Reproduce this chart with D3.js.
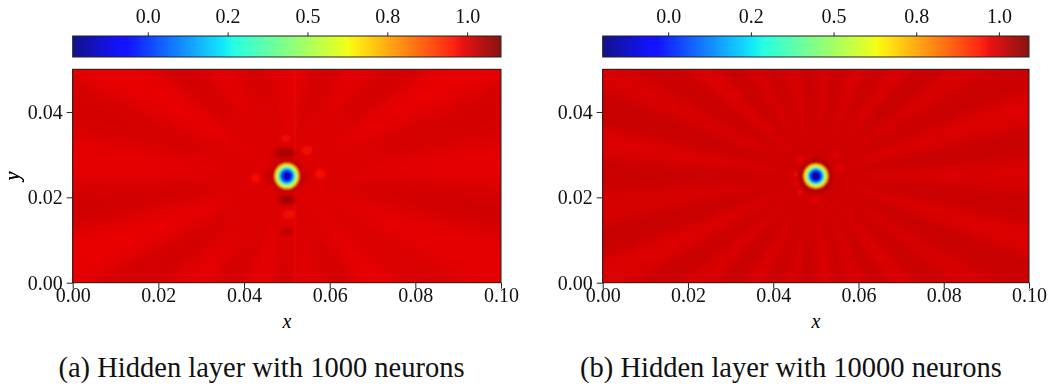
<!DOCTYPE html>
<html>
<head>
<meta charset="utf-8">
<script src="https://cdn.jsdelivr.net/npm/d3@7"></script>
<style>
  body { margin: 0; background: #fff; }
  svg { display: block; }
</style>
</head>
<body>
<svg id="chart" width="1054" height="390"></svg>
<script>
// ---- data ----
const xTicks = [0, 0.02, 0.04, 0.06, 0.08, 0.10];
const yTicks = [0, 0.02, 0.04];
const cbarTicks = [0, 0.25, 0.5, 0.75, 1.0];
const cbarTickLabels = ["0.0", "0.2", "0.5", "0.8", "1.0"];
const captions = ["(a) Hidden layer with 1000 neurons", "(b) Hidden layer with 10000 neurons"];

// value range of each field (ends of the colour bars)
const rangeA = [-0.235, 1.106];
const rangeB = [-0.198, 1.091];
const spotCenter = [0.05, 0.025];
const baseValue = [1.005, 1.005];

// radial profile of the spot: radius (x units) -> value
const profileRadiusA = [0.0042, 0.0033, 0.0030, 0.0028, 0.00257, 0.00234, 0.0021, 0.00175, 0.0014, 0.00093, 0.00047];
const profileValueA = [1.02, 1.06, 0.90, 0.75, 0.62, 0.50, 0.35, 0.15, 0.0, -0.15, -0.23];
const profileRadiusB = [0.0042, 0.0034, 0.0031, 0.0028, 0.00257, 0.00234, 0.0021, 0.00175, 0.0014, 0.0010, 0.0005];
const profileValueB = [1.03, 1.07, 0.92, 0.76, 0.62, 0.50, 0.35, 0.14, 0.0, -0.14, -0.19];

// faint radial streaks: wedge boundaries (degrees, clockwise from up) and values
const rayAnglesA = [0, 12, 27, 40, 53, 66, 80, 93, 106, 120, 134, 147, 160, 174, 188, 201, 214, 228, 242, 255, 268, 281, 295, 309, 322, 336, 348, 360];
const rayValuesA = [0.988, 1.012, 0.99, 1.01, 0.985, 1.008, 0.99, 1.012, 0.988, 1.004, 0.985, 1.012, 0.992, 1.008, 0.985, 1.012, 0.99, 1.01, 0.985, 1.012, 0.988, 1.008, 0.985, 1.012, 0.99, 1.01, 0.995];
const rayAnglesB = [0, 8, 17, 25, 34, 42, 51, 59, 68, 77, 85, 94, 103, 111, 120, 128, 137, 146, 154, 163, 171, 180, 189, 197, 206, 214, 223, 232, 240, 249, 257, 266, 275, 283, 292, 300, 309, 318, 326, 335, 343, 352, 360];
const rayValuesB = [0.993, 1.01, 0.99, 1.008, 0.993, 1.01, 0.995, 1.008, 0.99, 1.01, 0.993, 1.008, 0.99, 1.01, 0.995, 1.008, 0.99, 1.01, 0.993, 1.008, 0.99, 1.01, 0.995, 1.008, 0.99, 1.01, 0.993, 1.008, 0.99, 1.01, 0.995, 1.008, 0.99, 1.01, 0.993, 1.008, 0.99, 1.01, 0.995, 1.008, 0.993, 1.01];

// small light / dark blobs near the spot: x, y, rx, ry, value
const blobsA = [
  [0.0495, 0.0303, 0.0026, 0.0012, 1.06],
  [0.0500, 0.0194, 0.0020, 0.0010, 1.07],
  [0.0500, 0.0120, 0.0015, 0.0010, 1.03],
  [0.0497, 0.0338, 0.0012, 0.0008, 0.97],
  [0.0505, 0.0160, 0.0015, 0.0012, 0.97],
  [0.0427, 0.0245, 0.0010, 0.0010, 0.965],
  [0.0578, 0.0255, 0.0012, 0.0012, 0.965],
  [0.0547, 0.0310, 0.0012, 0.0012, 0.97],
  [0.0460, 0.0250, 0.0008, 0.0014, 1.04],
  [0.0540, 0.0250, 0.0008, 0.0014, 1.04]
];
const blobsB = [
  [0.0453, 0.0255, 0.0006, 0.0006, 0.955],
  [0.0455, 0.0233, 0.0006, 0.0006, 0.955],
  [0.0463, 0.0212, 0.0006, 0.0006, 0.96],
  [0.0460, 0.0287, 0.0006, 0.0006, 0.96],
  [0.0555, 0.0268, 0.0006, 0.0006, 0.96],
  [0.0548, 0.0300, 0.0006, 0.0006, 0.965],
  [0.0500, 0.0197, 0.0008, 0.0005, 0.965]
];
// lighter vertical line in panel (a): x position, value
const lineA = [0.0519, 0.97];

// ---- jet colormap (matplotlib segment data) ----
const jetR = d3.scaleLinear().domain([0, 0.35, 0.66, 0.89, 1]).range([0, 0, 1, 1, 0.5]).clamp(true);
const jetG = d3.scaleLinear().domain([0, 0.125, 0.375, 0.64, 0.91, 1]).range([0, 0, 1, 1, 0, 0]).clamp(true);
const jetB = d3.scaleLinear().domain([0, 0.11, 0.34, 0.65, 1]).range([0.5, 1, 1, 0, 0]).clamp(true);
function jet(t) {
  return d3.rgb(jetR(t) * 255, jetG(t) * 255, jetB(t) * 255).formatHex();
}

const svg = d3.select("#chart");
const defs = svg.append("defs");
const plotTop = 69.3, plotBottom = 282.7;
const cbarTop = 36, cbarBottom = 57;
const fontTick = "'Liberation Serif', 'Times New Roman', serif";

function blurFilter(id, sd) {
  defs.append("filter").attr("id", id)
    .attr("x", "-20%").attr("y", "-20%").attr("width", "140%").attr("height", "140%")
    .append("feGaussianBlur").attr("stdDeviation", sd);
}

const panels = [
  {id: "a", left: 72.7, right: 501, range: rangeA, base: baseValue[0],
    rayAngles: rayAnglesA, rayValues: rayValuesA, rayBlur: 9,
    profR: profileRadiusA, profV: profileValueA, stretch: 1.05,
    blobs: blobsA, line: lineA, caption: captions[0], captionX: 261.5},
  {id: "b", left: 602.7, right: 1029, range: rangeB, base: baseValue[1],
    rayAngles: rayAnglesB, rayValues: rayValuesB, rayBlur: 4,
    profR: profileRadiusB, profV: profileValueB, stretch: 1.0,
    blobs: blobsB, line: null, caption: captions[1], captionX: 791}
];

panels.forEach(drawPanel);

function drawPanel(p) {
  const x = d3.scaleLinear().domain([0, 0.1]).range([p.left, p.right]);
  const y = d3.scaleLinear().domain([0, 0.05]).range([plotBottom, plotTop]);
  const color = v => jet((v - p.range[0]) / (p.range[1] - p.range[0]));

  defs.append("clipPath").attr("id", "clip-" + p.id)
    .append("rect")
    .attr("x", x(0)).attr("y", y(0.05))
    .attr("width", x(0.1) - x(0)).attr("height", y(0) - y(0.05));
  blurFilter("rays-" + p.id, p.rayBlur);
  blurFilter("blob-" + p.id, 2.2);
  blurFilter("spot-" + p.id, 0.8);

  const field = svg.append("g").attr("clip-path", "url(#clip-" + p.id + ")");
  const cx = x(spotCenter[0]), cy = y(spotCenter[1]);

  // background + streaks
  const rays = field.append("g").attr("filter", "url(#rays-" + p.id + ")");
  rays.append("rect")
    .attr("x", x(0) - 40).attr("y", y(0.05) - 40)
    .attr("width", x(0.1) - x(0) + 80).attr("height", y(0) - y(0.05) + 80)
    .attr("fill", color(p.base));
  const arc = d3.arc().innerRadius(0).outerRadius(700);
  const wedges = p.rayValues.map((v, i) => ({a0: p.rayAngles[i], a1: p.rayAngles[i + 1], v: v}));
  rays.selectAll("path").data(wedges).join("path")
    .attr("transform", "translate(" + cx + "," + cy + ")")
    .attr("d", d => arc({startAngle: d.a0 * Math.PI / 180, endAngle: d.a1 * Math.PI / 180}))
    .attr("fill", d => color(d.v));

  if (p.line) {
    field.append("rect")
      .attr("x", x(p.line[0]) - 1).attr("y", y(0.05))
      .attr("width", 2).attr("height", y(0) - y(0.05))
      .attr("fill", color(p.line[1])).attr("opacity", 0.5)
      .attr("filter", "url(#spot-" + p.id + ")");
  }

  // blobs around the spot
  field.append("g").attr("filter", "url(#blob-" + p.id + ")")
    .selectAll("ellipse").data(p.blobs).join("ellipse")
    .attr("cx", d => x(d[0])).attr("cy", d => y(d[1]))
    .attr("rx", d => x(d[2]) - x(0)).attr("ry", d => y(0) - y(d[3]))
    .attr("fill", d => color(d[4]));

  // the spot, as rings from outside in
  const rings = p.profR.map((r, i) => ({r: r, v: p.profV[i]}));
  field.append("g").attr("filter", "url(#spot-" + p.id + ")")
    .selectAll("ellipse").data(rings).join("ellipse")
    .attr("cx", cx).attr("cy", cy)
    .attr("rx", d => x(d.r) - x(0))
    .attr("ry", d => (x(d.r) - x(0)) * p.stretch)
    .attr("fill", d => color(d.v));

  // frame
  svg.append("rect")
    .attr("x", x(0)).attr("y", y(0.05))
    .attr("width", x(0.1) - x(0)).attr("height", y(0) - y(0.05))
    .attr("fill", "none").attr("stroke", "#222").attr("stroke-width", 1);

  // axes
  const gx = svg.append("g").attr("transform", "translate(0," + y(0) + ")")
    .call(d3.axisBottom(x).tickValues(xTicks).tickFormat(d3.format(".2f")).tickSize(6).tickPadding(0));
  gx.select(".domain").remove();
  gx.selectAll("text").attr("y", 5);
  const gy = svg.append("g").attr("transform", "translate(" + x(0) + ",0)")
    .call(d3.axisLeft(y).tickValues(yTicks).tickFormat(d3.format(".2f")).tickSize(6).tickPadding(4));
  gy.select(".domain").remove();
  [gx, gy].forEach(g => {
    g.selectAll("text").attr("font-family", fontTick).attr("font-size", 20).attr("fill", "#111");
    g.selectAll("line").attr("stroke", "#222");
  });

  svg.append("text")
    .attr("x", (x(0) + x(0.1)) / 2).attr("y", 327.5)
    .attr("text-anchor", "middle")
    .attr("font-family", fontTick).attr("font-style", "italic").attr("font-size", 20)
    .text("x");
  svg.append("text")
    .attr("transform", "translate(18.5," + y(0.025) + ") rotate(-90)")
    .attr("text-anchor", "middle")
    .attr("font-family", fontTick).attr("font-style", "italic").attr("font-size", 20)
    .text("y");

  // colour bar
  const cb = d3.scaleLinear().domain(p.range).range([p.left, p.right]);
  const steps = d3.range(Math.round(p.right - p.left));
  svg.append("g").selectAll("rect").data(steps).join("rect")
    .attr("x", i => p.left + i).attr("y", cbarTop)
    .attr("width", 1.2).attr("height", cbarBottom - cbarTop)
    .attr("fill", i => color(cb.invert(p.left + i + 0.5)));
  svg.append("rect")
    .attr("x", p.left).attr("y", cbarTop)
    .attr("width", p.right - p.left).attr("height", cbarBottom - cbarTop)
    .attr("fill", "none").attr("stroke", "#222").attr("stroke-width", 1);
  const gc = svg.append("g").attr("transform", "translate(0," + cbarTop + ")")
    .call(d3.axisTop(cb).tickValues(cbarTicks)
      .tickFormat((d, i) => cbarTickLabels[i]).tickSize(3.7).tickPadding(9));
  gc.select(".domain").remove();
  gc.selectAll("text").attr("font-family", fontTick).attr("font-size", 20).attr("fill", "#111");
  gc.selectAll("line").attr("stroke", "#222");

  // caption
  svg.append("text")
    .attr("x", p.captionX).attr("y", 377)
    .attr("text-anchor", "middle")
    .attr("font-family", fontTick).attr("font-size", 28.5).attr("fill", "#111")
    .text(p.caption);
}
</script>
</body>
</html>
